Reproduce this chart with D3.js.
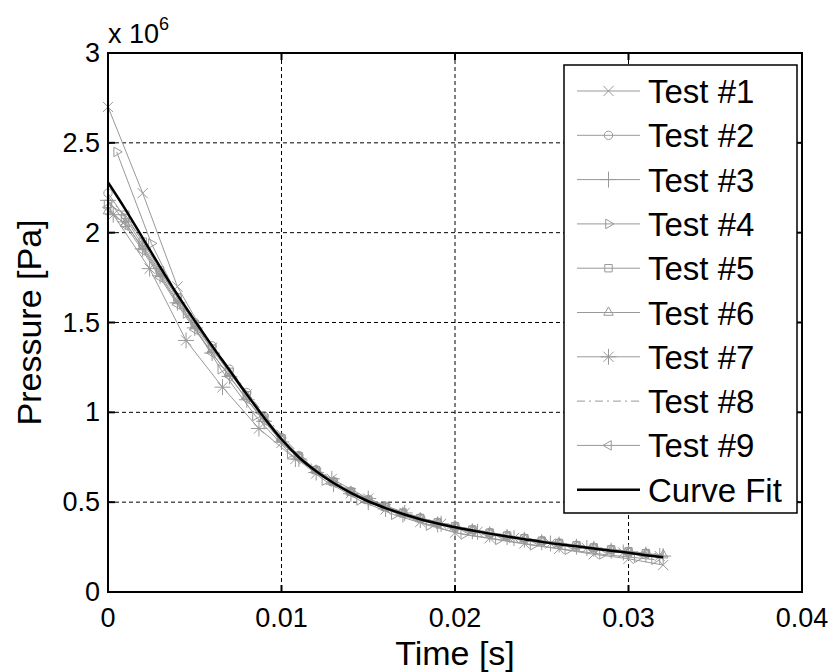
<!DOCTYPE html>
<html><head><meta charset="utf-8">
<script src="https://cdn.jsdelivr.net/npm/d3@7"></script>
<style>
body{margin:0;background:#fff}
svg{display:block}
text{font-family:"Liberation Sans", Arial, sans-serif;fill:#000}
</style>
</head><body>
<svg id="chart" width="840" height="672"></svg>
<script>
// ---- sampling times (ms) ----
const timeFine  = [0,1,2,3,4,5,6,7,8,9,10,11,12,13,14,15,16,17,18,19,20,21,22,23,24,25,26,27,28,29,30,31,32];
const timeTest1 = [0,2,4,6,8,10,12,14,16,18,20,22,24,26,28,30,32];
const timeTest4 = [0.5,2.5,4.5,6.5,8.5,10.5,12.5,14.5,16.5,18.5,20.5,22.5,24.5,26.5,28.5,30.5,31.5];
const timeTest7 = [0.3,2.4,4.5,6.6,8.7,10.8,12.9,15.0,17.1,19.2,21.3,23.4,25.5,27.6,29.7,31.8];

// ---- pressure (x 10^6 Pa) ----
const test1 = [2.70,2.22,1.70,1.36,1.10,0.83,0.66,0.55,0.46,0.39,0.33,0.30,0.27,0.24,0.21,0.185,0.15];
const test2 = [2.22,2.08,1.93,1.78,1.64,1.50,1.37,1.24,1.11,0.98,0.86,0.76,0.68,0.615,0.56,0.515,0.475,0.44,0.412,0.388,0.367,0.348,0.331,0.315,0.30,0.286,0.273,0.26,0.248,0.237,0.226,0.216];
const test3 = [2.18,2.06,1.91,1.76,1.61,1.47,1.33,1.20,1.07,0.95,0.835,0.74,0.665,0.60,0.547,0.50,0.462,0.43,0.40,0.376,0.356,0.338,0.321,0.306,0.291,0.277,0.264,0.252,0.241,0.23,0.219,0.209,0.20];
const test4 = [2.45,1.94,1.55,1.24,0.98,0.77,0.62,0.51,0.43,0.37,0.32,0.29,0.26,0.235,0.21,0.19,0.18];
const test5 = [2.16,2.10,1.95,1.79,1.64,1.49,1.355,1.225,1.095,0.97,0.855,0.755,0.678,0.613,0.558,0.512,0.473,0.44,0.411,0.387,0.366,0.347,0.33,0.314,0.299,0.285,0.272,0.26,0.248,0.237,0.226,0.216];
const test6 = [2.12,2.05,1.92,1.77,1.62,1.48,1.35,1.22,1.09,0.965,0.85,0.752,0.675,0.61,0.556,0.51,0.471,0.437,0.408,0.384,0.363,0.345,0.328,0.312,0.297,0.283,0.27,0.258,0.246,0.235,0.224,0.214,0.205];
const test7 = [2.10,1.80,1.40,1.14,0.91,0.74,0.63,0.52,0.44,0.38,0.335,0.30,0.27,0.245,0.22,0.20];
const test8 = [2.20,2.09,1.95,1.80,1.65,1.51,1.375,1.245,1.115,0.99,0.87,0.77,0.69,0.622,0.565,0.518,0.478,0.444,0.414,0.389,0.368,0.349,0.332,0.316,0.301,0.287,0.274,0.262,0.25,0.239,0.228,0.218,0.209];
const test9 = [2.14,2.04,1.90,1.75,1.60,1.46,1.33,1.20,1.075,0.955,0.845,0.75,0.672,0.607,0.553,0.508,0.47,0.437,0.408,0.383,0.362,0.343,0.326,0.31,0.295,0.281,0.268,0.256,0.244,0.233,0.222,0.212];
const curveFit = [2.28,2.13,1.97,1.81,1.655,1.51,1.37,1.235,1.10,0.97,0.85,0.75,0.672,0.607,0.552,0.505,0.467,0.434,0.405,0.381,0.36,0.342,0.325,0.309,0.294,0.279,0.266,0.254,0.242,0.23,0.218,0.205,0.193];

// ---- axes ----
const xTicks = [0,0.01,0.02,0.03,0.04];
const xTickLabels = ["0","0.01","0.02","0.03","0.04"];
const yTicks = [0,0.5,1,1.5,2,2.5,3];
const yTickLabels = ["0","0.5","1","1.5","2","2.5","3"];

const seriesNames   = ["Test #1","Test #2","Test #3","Test #4","Test #5","Test #6","Test #7","Test #8","Test #9"];
const seriesMarkers = ["x","o","+",">","s","^","*","none","<"];
const seriesTimes   = [timeTest1,timeFine,timeFine,timeTest4,timeFine,timeFine,timeTest7,timeFine,timeFine];
const seriesValues  = [test1,test2,test3,test4,test5,test6,test7,test8,test9];

const plotLeft = 108, plotRight = 802, plotTop = 53, plotBottom = 592;
const gray = "#999999";

const svg = d3.select("#chart");
const x = d3.scaleLinear().domain([0, 0.04]).range([plotLeft, plotRight]);
const y = d3.scaleLinear().domain([0, 3]).range([plotBottom, plotTop]);

// grid
const grid = svg.append("g").attr("stroke", "#000").attr("stroke-width", 1).attr("stroke-dasharray", "4,3");
xTicks.slice(1, -1).forEach(v => grid.append("line").attr("x1", x(v)).attr("x2", x(v)).attr("y1", plotTop).attr("y2", plotBottom));
yTicks.slice(1, -1).forEach(v => grid.append("line").attr("y1", y(v)).attr("y2", y(v)).attr("x1", plotLeft).attr("x2", plotRight));

// marker drawing
function drawMarker(g, type, cx, cy) {
  const s = g.append("g").attr("transform", `translate(${cx},${cy})`)
    .attr("fill", "none").attr("stroke", gray).attr("stroke-width", 1);
  const path = (sym, size, rot) => s.append("path")
    .attr("d", d3.symbol(sym, size)())
    .attr("transform", rot ? `rotate(${rot})` : null);
  switch (type) {
    case "x": path(d3.symbolTimes, 70); break;
    case "o": path(d3.symbolCircle, 55); break;
    case "+": path(d3.symbolPlus, 85); break;
    case ">": path(d3.symbolTriangle2, 65, 90); break;
    case "<": path(d3.symbolTriangle2, 65, -90); break;
    case "s": path(d3.symbolSquare, 55); break;
    case "^": path(d3.symbolTriangle2, 65); break;
    case "*": path(d3.symbolPlus, 85); path(d3.symbolTimes, 70); break;
  }
}

const line = d3.line().x(d => x(d[0] / 1000)).y(d => y(d[1]));

// test series
const plot = svg.append("g");
seriesValues.forEach((vals, i) => {
  const pts = vals.map((v, k) => [seriesTimes[i][k], v]);
  const g = plot.append("g");
  g.append("path").datum(pts).attr("d", line)
    .attr("fill", "none").attr("stroke", gray).attr("stroke-width", 1)
    .attr("stroke-dasharray", seriesMarkers[i] === "none" ? "8,4,2,4" : null);
  if (seriesMarkers[i] !== "none") pts.forEach(p => drawMarker(g, seriesMarkers[i], x(p[0] / 1000), y(p[1])));
});

// curve fit
const fitLine = d3.line().x(d => x(d[0] / 1000)).y(d => y(d[1])).curve(d3.curveMonotoneX);
plot.append("path").datum(curveFit.map((v, k) => [timeFine[k], v])).attr("d", fitLine)
  .attr("fill", "none").attr("stroke", "#000").attr("stroke-width", 2.5);

// box + ticks
const axes = svg.append("g").attr("stroke", "#000");
axes.append("rect").attr("x", plotLeft).attr("y", plotTop).attr("width", plotRight - plotLeft).attr("height", plotBottom - plotTop)
  .attr("fill", "none").attr("stroke-width", 2);
const tl = 7;
xTicks.forEach(v => {
  axes.append("line").attr("x1", x(v)).attr("x2", x(v)).attr("y1", plotBottom).attr("y2", plotBottom - tl).attr("stroke-width", 2);
  axes.append("line").attr("x1", x(v)).attr("x2", x(v)).attr("y1", plotTop).attr("y2", plotTop + tl).attr("stroke-width", 2);
});
yTicks.forEach(v => {
  axes.append("line").attr("y1", y(v)).attr("y2", y(v)).attr("x1", plotLeft).attr("x2", plotLeft + tl).attr("stroke-width", 2);
  axes.append("line").attr("y1", y(v)).attr("y2", y(v)).attr("x1", plotRight).attr("x2", plotRight - tl).attr("stroke-width", 2);
});

// tick labels
xTicks.forEach((v, i) => svg.append("text").attr("x", x(v)).attr("y", 627)
  .attr("text-anchor", "middle").attr("font-size", 27).text(xTickLabels[i]));
yTicks.forEach((v, i) => svg.append("text").attr("x", 100).attr("y", y(v) + 9)
  .attr("text-anchor", "end").attr("font-size", 27).text(yTickLabels[i]));

// exponent
const ex = svg.append("text").attr("x", 108).attr("y", 43).attr("font-size", 27);
ex.append("tspan").text("x 10");
ex.append("tspan").attr("font-size", 18).attr("dy", -13).text("6");

// axis titles
svg.append("text").attr("x", (plotLeft + plotRight) / 2).attr("y", 665).attr("text-anchor", "middle")
  .attr("font-size", 34).text("Time [s]");
svg.append("text").attr("transform", `translate(41,${(plotTop + plotBottom) / 2}) rotate(-90)`)
  .attr("text-anchor", "middle").attr("font-size", 34).text("Pressure [Pa]");

// legend
const lg = svg.append("g");
const lx = 564, ly = 65, lw = 233, lh = 448, rowH = 44.3, row0 = 91;
lg.append("rect").attr("x", lx).attr("y", ly).attr("width", lw).attr("height", lh)
  .attr("fill", "#fff").attr("stroke", "#000").attr("stroke-width", 1.5);
const legendNames = seriesNames.concat(["Curve Fit"]);
legendNames.forEach((name, i) => {
  const cy = row0 + i * rowH;
  const isFit = i === seriesNames.length;
  const g = lg.append("g");
  g.append("line").attr("x1", 577).attr("x2", 640).attr("y1", cy).attr("y2", cy)
    .attr("stroke", isFit ? "#000" : gray).attr("stroke-width", isFit ? 2.5 : 1)
    .attr("stroke-dasharray", !isFit && seriesMarkers[i] === "none" ? "8,4,2,4" : null);
  if (!isFit && seriesMarkers[i] !== "none") drawMarker(g, seriesMarkers[i], 608.5, cy);
  g.append("text").attr("x", 648).attr("y", cy + 12).attr("font-size", 33).text(name);
});
</script>
</body></html>
